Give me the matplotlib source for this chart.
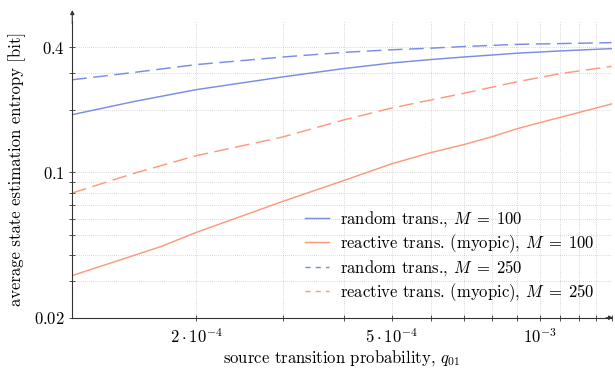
import matplotlib
matplotlib.use("Agg")
import matplotlib.pyplot as plt
from matplotlib.lines import Line2D
from matplotlib.ticker import FixedLocator, NullFormatter

plt.rcParams["font.family"] = "serif"
plt.rcParams["font.serif"] = ["cmr10", "DejaVu Serif"]
plt.rcParams["mathtext.fontset"] = "cm"
plt.rcParams["axes.unicode_minus"] = False
plt.rcParams["axes.formatter.use_mathtext"] = True

## Donnees lues sur la figure
# random trans., M = 100
q_rand100 = [1.12e-4, 1.5e-4, 2e-4, 3e-4, 4e-4, 5e-4, 6e-4, 7e-4, 8e-4, 9e-4, 1.1e-3, 1.4e-3]
h_rand100 = [0.1896, 0.2196, 0.250, 0.288, 0.316, 0.336, 0.349, 0.359, 0.367, 0.3745, 0.384, 0.394]
# reactive trans. (myopic), M = 100
q_reac100 = [1.12e-4, 1.7e-4, 2e-4, 3e-4, 4e-4, 5e-4, 6e-4, 7e-4, 8e-4, 9e-4, 1e-3, 1.4e-3]
h_reac100 = [0.0319, 0.04405, 0.0514, 0.0725, 0.0915, 0.110, 0.1244, 0.136, 0.1485, 0.1623, 0.1734, 0.2134]
# random trans., M = 250
q_rand250 = [1.12e-4, 1.5e-4, 2e-4, 3e-4, 4e-4, 5e-4, 6e-4, 7e-4, 9e-4, 1.4e-3]
h_rand250 = [0.279, 0.303, 0.330, 0.359, 0.378, 0.389, 0.396, 0.403, 0.413, 0.421]
# reactive trans. (myopic), M = 250
q_reac250 = [1.12e-4, 1.51e-4, 2e-4, 3e-4, 4e-4, 5e-4, 6e-4, 7e-4, 9e-4, 1.1e-3, 1.4e-3]
h_reac250 = [0.0796, 0.0997, 0.1203, 0.148, 0.179, 0.204, 0.223, 0.240, 0.273, 0.2985, 0.3236]

labels = [r"random trans., $M\;=\;100$",
          r"reactive trans. (myopic), $M\;=\;100$",
          r"random trans., $M\;=\;250$",
          r"reactive trans. (myopic), $M\;=\;250$"]

xticks = [2e-4, 5e-4, 1e-3]
xticklabels = [r"$2\cdot10^{-4}$", r"$5\cdot10^{-4}$", r"$10^{-3}$"]
xminor = [3e-4, 4e-4, 6e-4, 7e-4, 8e-4, 9e-4, 1.1e-3, 1.2e-3, 1.3e-3, 1.4e-3]
yticks = [0.02, 0.1, 0.4]
yticklabels = [r"$0.02$", r"$0.1$", r"$0.4$"]
yminor = [0.03, 0.04, 0.05, 0.06, 0.07, 0.08, 0.09, 0.2, 0.3]

bleu = "#7b8ce4"
saumon = "#fb9b7e"
fs = 12

## Affichage
fig = plt.figure(figsize=(6.15, 3.69), dpi=100)
ax = fig.add_axes([72.3/615, 1 - 317.7/369, 539.2/615, 296.7/369])

lw = 1.05
ax.plot(q_rand100, h_rand100, color=bleu, lw=lw)
ax.plot(q_reac100, h_reac100, color=saumon, lw=lw)
ax.plot(q_rand250, h_rand250, color=bleu, lw=lw, dashes=(10, 4.5))
ax.plot(q_reac250, h_reac250, color=saumon, lw=lw, dashes=(10, 4.5))

ax.set_xscale("log")
ax.set_yscale("log")
ax.set_xlim(1.12e-4, 1.4e-3)
ax.set_ylim(0.02, 0.535)

ax.xaxis.set_major_locator(FixedLocator(xticks))
ax.xaxis.set_minor_locator(FixedLocator(xminor))
ax.set_xticklabels(xticklabels)
ax.xaxis.set_minor_formatter(NullFormatter())
ax.yaxis.set_major_locator(FixedLocator(yticks))
ax.yaxis.set_minor_locator(FixedLocator(yminor))
ax.set_yticklabels(yticklabels)
ax.yaxis.set_minor_formatter(NullFormatter())

ax.tick_params(which="both", direction="inout", length=5, width=0.6, color="#333333",
               labelsize=fs, pad=3)
ax.tick_params(axis="x", pad=4)
ax.grid(True, which="both", ls=(0, (1, 2)), lw=0.5, color="#b5b5b5")

for s in ["top", "right"]:
    ax.spines[s].set_visible(False)
for s in ["left", "bottom"]:
    ax.spines[s].set_linewidth(0.8)
    ax.spines[s].set_color("#333333")

# fleches des axes
ax.annotate("", xy=(0, 1.037), xytext=(0, 0.99), xycoords="axes fraction",
            arrowprops=dict(arrowstyle="-|>", lw=0.8, color="#333333", mutation_scale=6,
                            shrinkA=0, shrinkB=0), annotation_clip=False)
ax.annotate("", xy=(1.003, 0), xytext=(0.99, 0), xycoords="axes fraction",
            arrowprops=dict(arrowstyle="-|>", lw=0.8, color="#333333", mutation_scale=6,
                            shrinkA=0, shrinkB=0), annotation_clip=False)

ax.set_xlabel(r"source transition probability, $q_{01}$", fontsize=fs, labelpad=2)
ax.set_ylabel("average state estimation entropy [bit]", fontsize=fs, labelpad=6)

handles = [Line2D([], [], color=bleu, lw=lw),
           Line2D([], [], color=saumon, lw=lw),
           Line2D([], [], color=bleu, lw=lw, dashes=(3.5, 3.5)),
           Line2D([], [], color=saumon, lw=lw, dashes=(3.5, 3.5))]
ax.legend(handles, labels, loc="upper left", frameon=False, fontsize=fs,
          bbox_to_anchor=((305 - 72.3)/539.2, (317.7 - 209)/296.7),
          borderpad=0, borderaxespad=0, handlelength=1.44, handletextpad=0.67,
          labelspacing=0.19)

fig.savefig("out.png", dpi=100)
